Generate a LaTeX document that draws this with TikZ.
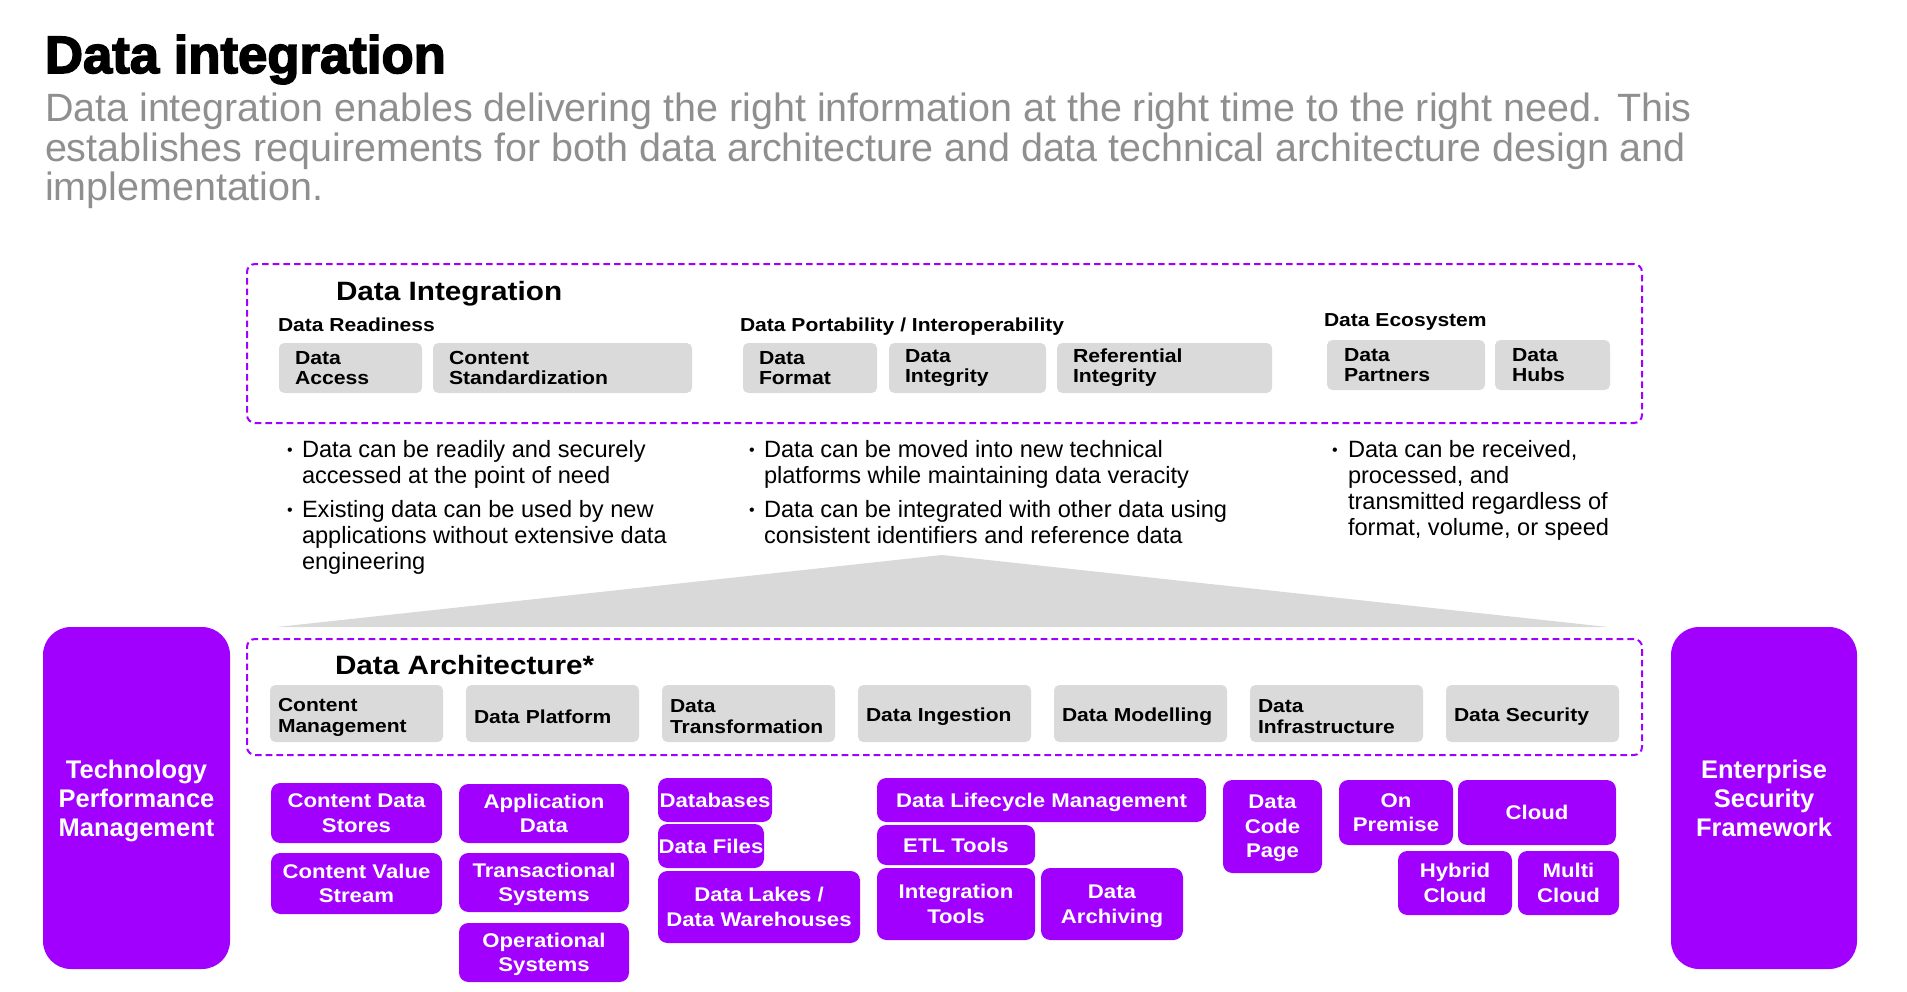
\documentclass[tikz,border=0pt]{standalone}
\usepackage{fontspec}
\setmainfont{Liberation Sans}
\newfontfamily\widefont{Liberation Sans}[FakeStretch=1.12]
\newfontfamily\heavyfont{Liberation Sans Bold}[FakeBold=3]

\definecolor{acc}{HTML}{A100FF}
\definecolor{cellgray}{HTML}{DADADA}
\definecolor{trigray}{HTML}{D9D9D9}
\definecolor{leadgray}{HTML}{8F8F8F}

\tikzset{
  every node/.style={inner sep=0pt, outer sep=0pt},
  dashbox/.style={draw=acc, line width=1.5pt, dash pattern=on 5pt off 3pt, rounded corners=6pt},
  topcell/.style={fill=cellgray, rounded corners=4pt, align=left,
    font=\widefont\bfseries\fontsize{14.2}{15}\selectfont},
  archcell/.style={fill=cellgray, rounded corners=4pt, align=left, text height=15pt,
    font=\widefont\bfseries\fontsize{14.1}{15.75}\selectfont},
  pcell/.style={fill=acc, rounded corners=7pt, text=white, align=center, text depth=0pt,
    font=\widefont\bfseries\fontsize{14.85}{18.4}\selectfont},
  bigcell/.style={fill=acc, rounded corners=21pt, text=white, align=center, text depth=0pt,
    font=\bfseries\fontsize{19.1}{21.75}\selectfont},
  hdr/.style={anchor=base west, font=\widefont\bfseries\fontsize{19.9}{24}\selectfont},
  subhdr/.style={anchor=base west, font=\widefont\bfseries\fontsize{14.1}{16}\selectfont},
  bultext/.style={anchor=base west, align=left, font=\fontsize{17.7}{19.5}\selectfont},
  buldot/.style={anchor=base west, font=\fontsize{12}{12}\selectfont},
}

% box spanning (x1,y1)-(x2,y2) in pixel units, label centred in it
\newcommand\Cell[7]{%
  \pgfmathsetmacro\cellw{(#5-#3)*0.75}%
  \pgfmathsetmacro\cellh{(#6-#4)*0.75}%
  \node[#1, minimum width=\cellw pt, minimum height=\cellh pt] (#2)
    at ({(#3+#5)/2},{(#4+#6)/2}) {#7};}
% grey box whose label is left-aligned with a given padding
\newcommand\PadCell[8]{%
  \pgfmathsetmacro\cellw{(#6-#4)*0.75}%
  \pgfmathsetmacro\cellh{(#7-#5)*0.75}%
  \pgfmathsetmacro\cellt{(#6-#4-2*#2)*0.75}%
  \node[#1, minimum width=\cellw pt, minimum height=\cellh pt, text width=\cellt pt] (#3)
    at ({(#4+#6)/2},{(#5+#7)/2}) {#8};}
% bullet with its paragraph: name, dot x, text x, first baseline, lines, text
\newcommand\BulItem[6]{%
  \node[buldot] (#1dot) at (#2,#4) {\raisebox{1.5pt}{\textbullet}};
  \node[bultext] (#1) at (#3,{#4+(#5-1)*26}) {#6};}

\begin{document}
\begin{tikzpicture}[x=0.75pt, y=-0.75pt]
\useasboundingbox (0,0) rectangle (1907,992);

% title and lead text
\node[anchor=base west, font=\heavyfont\fontsize{39.5}{40}\selectfont] (title) at (45,73) {Data integration};
\node[anchor=base west, align=left, text=leadgray, font=\fontsize{29.6}{29.6}\selectfont] (lead) at (45,200.5)
  {Data integration enables delivering the right information at the right time to the right need. This\\
   establishes requirements for both data architecture and data technical architecture design and\\
   implementation.};

% Data Integration block
\Cell{dashbox}{integ}{247}{264}{1642}{423}{}
\node[hdr] (integhdr) at (336,300) {Data Integration};
\node[subhdr] (ready) at (278,331) {Data Readiness};
\node[subhdr] (port) at (740,331) {Data Portability / Interoperability};
\node[subhdr] (eco) at (1324,326) {Data Ecosystem};

\PadCell{topcell}{16}{access}{279}{343}{422}{393}{Data\\Access}
\PadCell{topcell}{16}{stand}{433}{343}{692}{393}{Content\\Standardization}
\PadCell{topcell}{16}{format}{743}{343}{877}{393}{Data\\Format}
\PadCell{topcell}{16}{integ1}{889}{343}{1046}{393}{Data\\Integrity}
\PadCell{topcell}{16}{refint}{1057}{343}{1272}{393}{Referential\\Integrity}
\PadCell{topcell}{17}{partn}{1327}{340}{1485}{390}{Data\\Partners}
\PadCell{topcell}{17}{hubs}{1495}{340}{1610}{390}{Data\\Hubs}

% outcomes
\BulItem{ba}{287}{302}{457}{2}{Data can be readily and securely\\accessed at the point of need}
\BulItem{bb}{287}{302}{517}{3}{Existing data can be used by new\\applications without extensive data\\engineering}
\BulItem{bc}{749}{764}{457}{2}{Data can be moved into new technical\\platforms while maintaining data veracity}
\BulItem{bd}{749}{764}{517}{2}{Data can be integrated with other data using\\consistent identifiers and reference data}
\BulItem{be}{1332}{1348}{457}{4}{Data can be received,\\processed, and\\transmitted regardless of\\format, volume, or speed}

% wedge from architecture up to integration
\coordinate (apex) at (942,555);
\coordinate (wl) at (277,627);
\coordinate (wr) at (1608,627);
\fill[trigray] (apex) -- (wl) -- (wr) -- cycle;

% Data Architecture block
\Cell{dashbox}{arch}{247}{639}{1642}{755}{}
\node[hdr] (archhdr) at (335,674) {Data Architecture*};
\PadCell{archcell}{8}{cm}{270}{685}{443}{742}{Content\\Management}
\PadCell{archcell}{8}{dplat}{466}{685}{639}{742}{Data Platform}
\PadCell{archcell}{8}{dtrans}{662}{685}{835}{742}{Data\\Transformation}
\PadCell{archcell}{8}{ding}{858}{685}{1031}{742}{Data Ingestion}
\PadCell{archcell}{8}{dmod}{1054}{685}{1227}{742}{Data Modelling}
\PadCell{archcell}{8}{dinf}{1250}{685}{1423}{742}{Data\\Infrastructure}
\PadCell{archcell}{8}{dsec}{1446}{685}{1619}{742}{Data Security}

% side pillars
\Cell{bigcell}{tpm}{43}{627}{230}{969}{Technology\\Performance\\Management}
\Cell{bigcell}{esf}{1671}{627}{1857}{969}{Enterprise\\Security\\Framework}

% components
\Cell{pcell}{cds}{271}{783}{442}{843}{Content Data\\Stores}
\Cell{pcell}{cvs}{271}{853}{442}{914}{Content Value\\Stream}
\Cell{pcell}{appd}{459}{784}{629}{843}{Application\\Data}
\Cell{pcell}{trs}{459}{853}{629}{912}{Transactional\\Systems}
\Cell{pcell}{ops}{459}{923}{629}{982}{Operational\\Systems}
\Cell{pcell}{dbs}{658}{778}{772}{822}{Databases}
\Cell{pcell}{dfiles}{658}{824}{764}{868}{Data Files}
\Cell{pcell}{lakes}{658}{871}{860}{943}{Data Lakes /\\Data Warehouses}
\Cell{pcell}{dlm}{877}{778}{1206}{822}{Data Lifecycle Management}
\Cell{pcell}{etl}{877}{825}{1035}{865}{ETL Tools}
\Cell{pcell}{itools}{877}{868}{1035}{940}{Integration\\Tools}
\Cell{pcell}{darch}{1041}{868}{1183}{940}{Data\\Archiving}
\Cell{pcell}{dcp}{1223}{780}{1322}{873}{Data\\Code\\Page}
\Cell{pcell}{onprem}{1339}{780}{1453}{845}{On\\Premise}
\Cell{pcell}{cloud}{1458}{780}{1616}{845}{Cloud}
\Cell{pcell}{hybrid}{1398}{851}{1512}{915}{Hybrid\\Cloud}
\Cell{pcell}{multi}{1518}{851}{1619}{915}{Multi\\Cloud}
\end{tikzpicture}
\end{document}
